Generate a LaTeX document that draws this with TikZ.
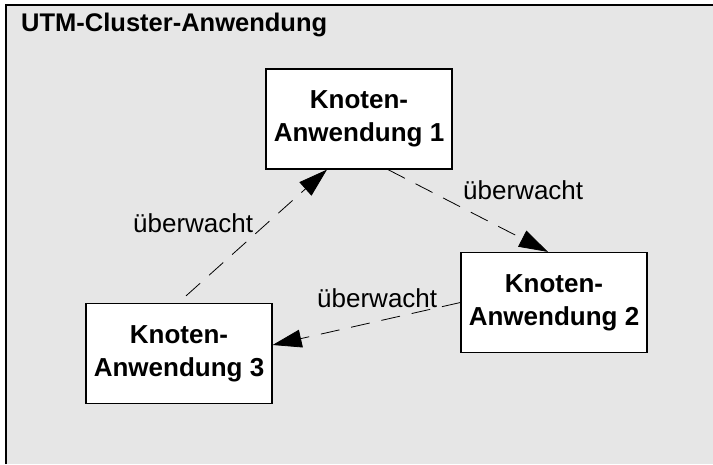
\documentclass[tikz,border=0pt]{standalone}
\usepackage{fontspec}
\setmainfont{Liberation Sans}
\usepackage{tikz}
\usetikzlibrary{arrows.meta, calc}

\definecolor{panel}{RGB}{230,230,230}

\begin{document}
\begin{tikzpicture}[x=1pt, y=-1pt,
                    knoten/.style={rectangle, draw=black, fill=white, line width=1.2pt,
                                   minimum width=186pt, minimum height=100pt, inner sep=0pt,
                                   align=center, font=\fontsize{26}{33}\selectfont\bfseries},
                    watch/.style={-{Triangle[length=29pt, width=18pt]}, line width=0.8pt,
                                  dash pattern=on 19pt off 12pt},
                    wlabel/.style={anchor=base west, inner sep=0pt,
                                   font=\fontsize{26}{30}\selectfont}]

            \useasboundingbox (0,0) rectangle (713,464);

            % Rahmen der Cluster-Anwendung
            \fill[panel] (7,6) rectangle (713,464);
            \draw[line width=2pt] (6,464) -- (6,5) -- (713,5);
            \node[anchor=base west, inner sep=0pt, font=\fontsize{25.5}{30}\selectfont\bfseries]
                (titel) at (21,31) {UTM-Cluster-Anwendung};

            \node[knoten] (k1) at (359,119)   {Knoten-\\Anwendung 1};
            \node[knoten] (k2) at (554,302.5) {Knoten-\\Anwendung 2};
            \node[knoten] (k3) at (179,353.5) {Knoten-\\Anwendung 3};

            \draw[watch] ([xshift=7pt, yshift=7pt]k3.north) -- ([xshift=-32pt]k1.south);
            \draw[watch] ([xshift=29pt]k1.south) -- ([xshift=-6pt]k2.north);
            \draw[watch] (k2.west) -- ([yshift=8.5pt]k3.east);

            \node[wlabel] (w31) at (133,232) {überwacht};
            \node[wlabel] (w12) at (463,199) {überwacht};
            \node[wlabel] (w23) at (317,307) {überwacht};
        \end{tikzpicture}
\end{document}
